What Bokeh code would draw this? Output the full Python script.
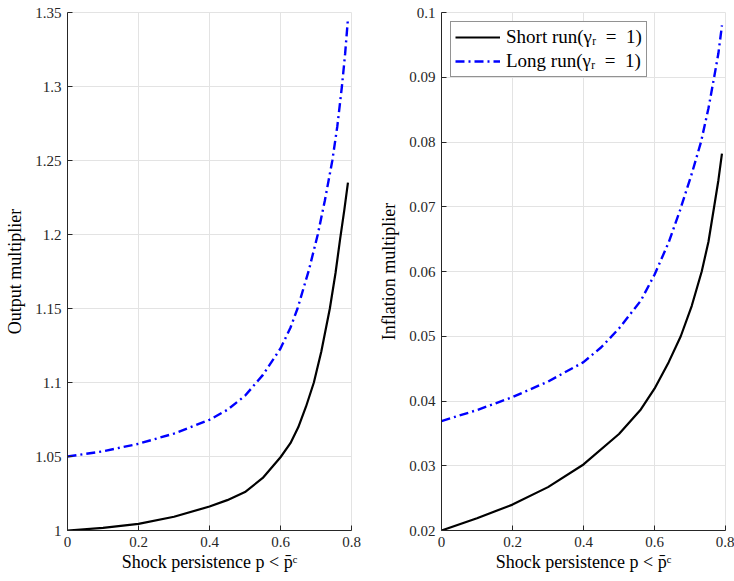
from bokeh.plotting import figure
from bokeh.layouts import row
from bokeh.models import FixedTicker, CustomJSTickFormatter, Range1d
from bokeh.embed import file_html
from bokeh.resources import INLINE

# ---- data ----
out_short_p = [0, 0.1, 0.2, 0.3, 0.4, 0.45, 0.5, 0.55, 0.6, 0.628, 0.65, 0.672, 0.694, 0.715, 0.739, 0.755, 0.768, 0.78, 0.79]
out_short_y = [1.0, 1.0018, 1.0045, 1.0093, 1.0162, 1.0205, 1.026, 1.0355, 1.0495, 1.059, 1.0697, 1.0838, 1.1, 1.121, 1.15, 1.174, 1.197, 1.217, 1.235]

out_long_p = [0, 0.1, 0.2, 0.3, 0.4, 0.45, 0.5, 0.55, 0.6, 0.628, 0.648, 0.68, 0.705, 0.725, 0.746, 0.76, 0.773, 0.782, 0.79]
out_long_y = [1.05, 1.0535, 1.0586, 1.0655, 1.0748, 1.0815, 1.091, 1.105, 1.123, 1.137, 1.15, 1.176, 1.2, 1.223, 1.25, 1.273, 1.3, 1.322, 1.3457]

inf_short_p = [0, 0.1, 0.2, 0.3, 0.4, 0.5, 0.5615, 0.6, 0.64, 0.674, 0.705, 0.733, 0.752, 0.768, 0.78, 0.79]
inf_short_y = [0.02, 0.0219, 0.024, 0.0267, 0.0302, 0.0349, 0.0387, 0.0419, 0.046, 0.05, 0.0547, 0.06, 0.0646, 0.07, 0.0741, 0.0782]

inf_long_p = [0, 0.1, 0.2, 0.3, 0.4, 0.45, 0.5, 0.5615, 0.6, 0.64, 0.671, 0.705, 0.731, 0.752, 0.768, 0.78, 0.79]
inf_long_y = [0.0369, 0.0386, 0.0406, 0.043, 0.046, 0.0483, 0.0512, 0.0555, 0.0595, 0.0645, 0.0693, 0.0751, 0.08, 0.0852, 0.09, 0.0937, 0.098]

x_ticks = [0, 0.2, 0.4, 0.6, 0.8]
out_ticks = [1.0, 1.05, 1.1, 1.15, 1.2, 1.25, 1.3, 1.35]
inf_ticks = [0.02, 0.03, 0.04, 0.05, 0.06, 0.07, 0.08, 0.09, 0.1]

x_label = "Shock persistence p < p\u0304\u1d9c"
short_label = "Short run(\u03b3\u1d63\u2002=\u20021)"
long_label = "Long run(\u03b3\u1d63\u2002=\u20021)"

FONT = "Liberation Serif"
AX = "#262626"
GRID = "#e3e3e3"
fmt_code = "return parseFloat(tick.toFixed(4)).toString();"


def style(p, yticks, ylabel):
    p.xaxis.ticker = FixedTicker(ticks=x_ticks)
    p.yaxis.ticker = FixedTicker(ticks=yticks)
    for ax in (p.xaxis[0], p.yaxis[0]):
        ax.formatter = CustomJSTickFormatter(code=fmt_code)
        ax.major_tick_in = 5
        ax.major_tick_out = 0
        ax.minor_tick_line_color = None
        ax.axis_line_color = AX
        ax.major_tick_line_color = AX
        ax.major_label_text_font = FONT
        ax.major_label_text_font_size = "15px"
        ax.major_label_text_color = AX
        ax.axis_label_text_font = FONT
        ax.axis_label_text_font_size = "18px"
        ax.axis_label_text_font_style = "normal"
        ax.axis_label_text_color = "#000000"
    p.xaxis.axis_label = x_label
    p.yaxis.axis_label = ylabel
    p.xaxis.major_label_standoff = 6
    p.xaxis.axis_label_standoff = 2
    p.yaxis.major_label_standoff = 6
    p.yaxis.axis_label_standoff = 7
    p.grid.grid_line_color = GRID
    p.grid.grid_line_width = 1
    p.outline_line_color = GRID
    p.background_fill_color = "white"
    p.border_fill_color = "white"


p1 = figure(frame_width=284, frame_height=518, min_border_left=67, min_border_right=16,
            min_border_top=12, min_border_bottom=51, output_backend="svg", toolbar_location=None,
            x_range=Range1d(0, 0.8), y_range=Range1d(1.0, 1.35))
style(p1, out_ticks, "Output multiplier")
p1.line(out_short_p, out_short_y, line_color="black", line_width=2.2, line_join="round")
p1.line(out_long_p, out_long_y, line_color="#0000ff", line_width=2.4, line_dash="9 4 2 4")

p2 = figure(frame_width=284, frame_height=518, min_border_left=74, min_border_right=9,
            min_border_top=12, min_border_bottom=51, output_backend="svg", toolbar_location=None,
            x_range=Range1d(0, 0.8), y_range=Range1d(0.02, 0.1))
style(p2, inf_ticks, "Inflation multiplier")
p2.line(inf_short_p, inf_short_y, line_color="black", line_width=2.2, line_join="round",
        legend_label=short_label)
p2.line(inf_long_p, inf_long_y, line_color="#0000ff", line_width=2.4, line_dash="9 4 2 4",
        legend_label=long_label)

lg = p2.legend[0]
lg.location = "top_left"
lg.margin = 9
lg.padding = 4
lg.spacing = 2
lg.glyph_width = 45
lg.glyph_height = 22
lg.label_height = 22
lg.label_standoff = 6
lg.label_text_font = FONT
lg.label_text_font_size = "19px"
lg.label_text_color = "#000000"
lg.border_line_color = "#262626"
lg.border_line_width = 1
lg.background_fill_color = "white"
lg.background_fill_alpha = 1.0

layout = row(p1, p2)
open("out.html", "w").write(file_html(layout, INLINE))
